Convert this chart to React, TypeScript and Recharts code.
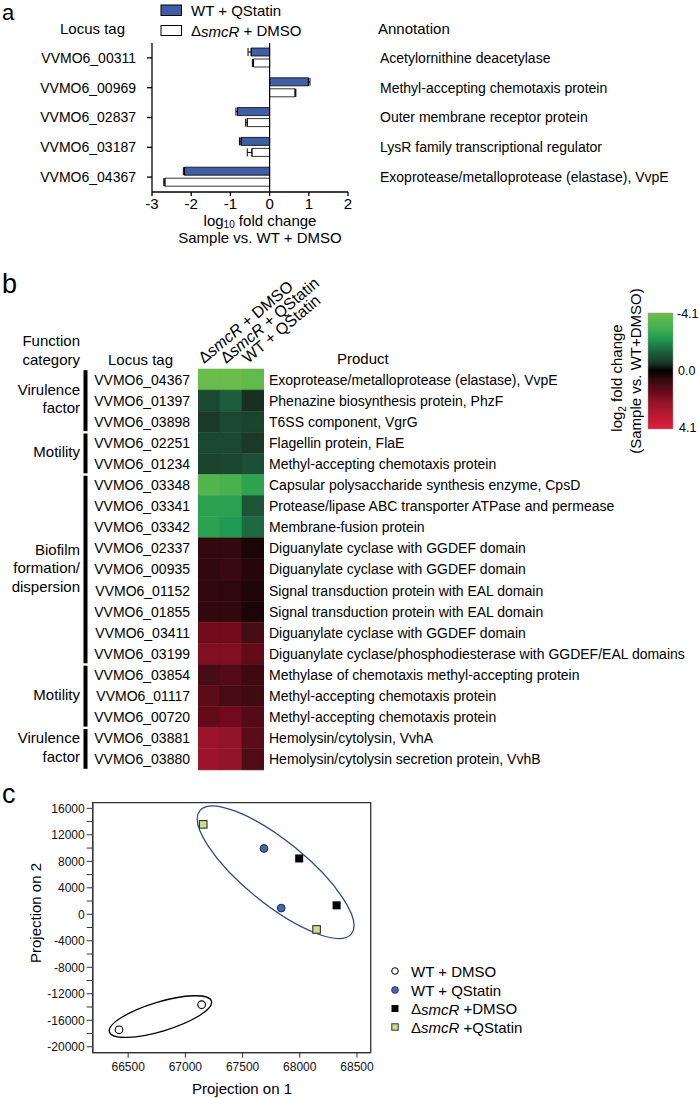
import React from 'react';
import {
  BarChart, Bar, XAxis, YAxis, ErrorBar, ReferenceLine, Cell,
  ScatterChart, Scatter, ReferenceArea, ReferenceDot,
} from 'recharts';

const FONT = '"Liberation Sans", Arial, Helvetica, sans-serif';

/* ── panel a data ── */
const TAGS_A = ['VVMO6_00311', 'VVMO6_00969', 'VVMO6_02837', 'VVMO6_03187', 'VVMO6_04367'];
const ANNOT_A = [
  'Acetylornithine deacetylase',
  'Methyl-accepting chemotaxis protein',
  'Outer membrane receptor protein',
  'LysR family transcriptional regulator',
  'Exoprotease/metalloprotease (elastase), VvpE',
];
const WT_QSTATIN = [-0.47, 0.99, -0.82, -0.73, -2.17];
const WT_QSTATIN_ERR = [0.08, 0.04, 0.04, 0.04, 0.03];
const SMCR_DMSO = [-0.41, 0.65, -0.57, -0.45, -2.67];
const SMCR_DMSO_ERR = [0.03, 0.02, 0.04, 0.12, 0.03];
const TICKS_A = [-3, -2, -1, 0, 1, 2];

/* ── panel b data ── */
const COLS_B = ['ΔsmcR + DMSO', 'ΔsmcR + QStatin', 'WT + QStatin'];
const TAGS_B = [
  'VVMO6_04367', 'VVMO6_01397', 'VVMO6_03898', 'VVMO6_02251', 'VVMO6_01234',
  'VVMO6_03348', 'VVMO6_03341', 'VVMO6_03342', 'VVMO6_02337', 'VVMO6_00935',
  'VVMO6_01152', 'VVMO6_01855', 'VVMO6_03411', 'VVMO6_03199', 'VVMO6_03854',
  'VVMO6_01117', 'VVMO6_00720', 'VVMO6_03881', 'VVMO6_03880',
];
const PRODUCTS_B = [
  'Exoprotease/metalloprotease (elastase), VvpE',
  'Phenazine biosynthesis protein, PhzF',
  'T6SS component, VgrG',
  'Flagellin protein, FlaE',
  'Methyl-accepting chemotaxis protein',
  'Capsular polysaccharide synthesis enzyme, CpsD',
  'Protease/lipase ABC transporter ATPase and permease',
  'Membrane-fusion protein',
  'Diguanylate cyclase with GGDEF domain',
  'Diguanylate cyclase with GGDEF domain',
  'Signal transduction protein with EAL domain',
  'Signal transduction protein with EAL domain',
  'Diguanylate cyclase with GGDEF domain',
  'Diguanylate cyclase/phosphodiesterase with GGDEF/EAL domains',
  'Methylase of chemotaxis methyl-accepting protein',
  'Methyl-accepting chemotaxis protein',
  'Methyl-accepting chemotaxis protein',
  'Hemolysin/cytolysin, VvhA',
  'Hemolysin/cytolysin secretion protein, VvhB',
];
const FC_SMCR_DMSO = [-4.0, -0.9, -0.6, -0.9, -0.8, -3.5, -2.5, -2.5, 0.6, 0.55, 0.55, 0.55, 1.6, 1.9, 1.0, 1.3, 1.4, 2.4, 2.4];
const FC_SMCR_QSTATIN = [-4.0, -1.3, -0.9, -0.9, -0.85, -3.2, -2.5, -2.3, 0.6, 0.7, 0.5, 0.55, 1.6, 1.9, 1.2, 1.0, 1.6, 2.2, 2.2];
const FC_WT_QSTATIN = [-3.8, -0.5, -0.8, -0.6, -1.0, -2.6, -1.1, -1.5, 0.3, 0.4, 0.35, 0.3, 0.95, 1.4, 0.8, 0.85, 1.2, 1.3, 1.1];
const FC_COLS = [FC_SMCR_DMSO, FC_SMCR_QSTATIN, FC_WT_QSTATIN];
const GROUPS_B = [
  { lines: ['Virulence', 'factor'], from: 0, to: 2 },
  { lines: ['Motility'], from: 3, to: 4 },
  { lines: ['Biofilm', 'formation/', 'dispersion'], from: 5, to: 13 },
  { lines: ['Motility'], from: 14, to: 16 },
  { lines: ['Virulence', 'factor'], from: 17, to: 18 },
];

/* ── panel c data ── */
const WT_DMSO_PTS = [{ x: 66420, y: -17440 }, { x: 67142, y: -13650 }];
const WT_QSTATIN_PTS = [{ x: 67687, y: 9940 }, { x: 67838, y: 940 }];
const SMCR_DMSO_PTS = [{ x: 67995, y: 8430 }, { x: 68322, y: 1350 }];
const SMCR_QSTATIN_PTS = [{ x: 67156, y: 13580 }, { x: 68147, y: -2290 }];
const X_TICKS_C = [66500, 67000, 67500, 68000, 68500];
const Y_TICKS_C = [-20000, -18000, -16000, -14000, -12000, -10000, -8000, -6000, -4000, -2000,
  0, 2000, 4000, 6000, 8000, 10000, 12000, 14000, 16000];
// group ellipse centres (data units)
const BLUE_ELLIPSE = { x: 67789, y: 6350 };
const BLACK_ELLIPSE = { x: 66782, y: -15440 };

/* ── styling ── */
const BLUE = '#3f5ea5';
const HEAT_STOPS: [number, number[]][] = [
  [-4.1, [110, 190, 76]],
  [-3.0, [64, 174, 78]],
  [-2.3, [32, 156, 82]],
  [-1.3, [28, 94, 60]],
  [-0.6, [27, 58, 38]],
  [0, [0, 0, 0]],
  [0.5, [46, 8, 11]],
  [1.0, [72, 12, 20]],
  [1.6, [112, 10, 28]],
  [2.2, [146, 20, 40]],
  [4.1, [224, 30, 60]],
];

function heatColor(v: number) {
  if (v <= HEAT_STOPS[0][0]) return rgb(HEAT_STOPS[0][1]);
  for (let i = 1; i < HEAT_STOPS.length; i++) {
    const [v1, c1] = HEAT_STOPS[i];
    const [v0, c0] = HEAT_STOPS[i - 1];
    if (v <= v1) {
      const t = (v - v0) / (v1 - v0);
      return rgb(c0.map((c, k) => c + (c1[k] - c) * t));
    }
  }
  return rgb(HEAT_STOPS[HEAT_STOPS.length - 1][1]);
}
function rgb(c: number[]) {
  return `rgb(${c.map(Math.round).join(',')})`;
}

// error bars only drawn outward from zero
const outward = (v: number, e: number) => (v < 0 ? [e, 0] : [0, e]);

function svgItalic(s: string) {
  const parts = s.split('smcR');
  if (parts.length === 1) return s;
  return (
    <>
      {parts[0]}
      <tspan fontStyle="italic">smcR</tspan>
      {parts[1]}
    </>
  );
}

/* ── panel a ── */
const dataA = TAGS_A.map((tag, i) => ({
  tag,
  wt: WT_QSTATIN[i],
  wtErr: outward(WT_QSTATIN[i], WT_QSTATIN_ERR[i]),
  smcr: SMCR_DMSO[i],
  smcrErr: outward(SMCR_DMSO[i], SMCR_DMSO_ERR[i]),
}));

function PanelA() {
  return (
    <div style={{ position: 'absolute', left: 0, top: 0 }}>
      <BarChart
        width={700}
        height={250}
        data={dataA}
        layout="vertical"
        margin={{ top: 43, right: 0, bottom: 0, left: 0 }}
        barGap={3}
        barSize={8}
      >
        <XAxis
          type="number"
          domain={[-3, 2]}
          ticks={TICKS_A}
          allowDataOverflow
          height={58}
          tickSize={4}
          tickMargin={2}
          axisLine={{ stroke: '#000', strokeWidth: 1.3 }}
          tickLine={{ stroke: '#000', strokeWidth: 1.3 }}
          tick={{ fill: '#000', fontSize: 15 }}
        />
        <YAxis
          type="category"
          dataKey="tag"
          width={152}
          interval={0}
          tickSize={5}
          tickMargin={11}
          axisLine={{ stroke: '#000', strokeWidth: 1.3 }}
          tickLine={{ stroke: '#000', strokeWidth: 1.3 }}
          tick={{ fill: '#000', fontSize: 14 }}
        />
        <YAxis
          yAxisId="annot"
          orientation="right"
          type="category"
          dataKey="tag"
          width={352}
          interval={0}
          axisLine={false}
          tickLine={false}
          tickSize={0}
          tickMargin={32}
          tickFormatter={(t: string) => ANNOT_A[TAGS_A.indexOf(t)]}
          tick={{ fill: '#000', fontSize: 14 }}
        />
        <ReferenceLine x={0} stroke="#000" strokeWidth={1.2} />
        <Bar dataKey="wt" name="WT + QStatin" fill={BLUE} stroke="#000" strokeWidth={0.8} isAnimationActive={false}>
          <ErrorBar dataKey="wtErr" direction="x" width={4} stroke="#000" strokeWidth={1} />
        </Bar>
        <Bar dataKey="smcr" name="ΔsmcR + DMSO" fill="#fff" stroke="#000" strokeWidth={0.8} isAnimationActive={false}>
          <ErrorBar dataKey="smcrErr" direction="x" width={4} stroke="#000" strokeWidth={1} />
        </Bar>
      </BarChart>
    </div>
  );
}

/* ── panel b ── */
const B_TOP = 270;
const B_HEIGHT = 510;
const B_XAXIS_H = 99;
const B_BOTTOM = 10;
const B_PLOT_TOP = B_TOP + B_XAXIS_H;
const B_ROW_H = (B_HEIGHT - B_XAXIS_H - B_BOTTOM) / TAGS_B.length;

const dataB = TAGS_B.map((tag, i) => ({ tag, product: PRODUCTS_B[i], c0: 1, c1: 1, c2: 1 }));

function ColumnTick(props: any) {
  const { x, y, payload } = props;
  const label = COLS_B[Math.floor(payload.value)];
  return (
    <text transform={`translate(${x - 5},${y - 1}) rotate(-40)`} fontSize={16} fill="#000">
      {svgItalic(label)}
    </text>
  );
}

function PanelB() {
  return (
    <div style={{ position: 'absolute', left: 0, top: B_TOP }}>
      <BarChart
        width={700}
        height={B_HEIGHT}
        data={dataB}
        layout="vertical"
        margin={{ top: 0, right: 0, bottom: B_BOTTOM, left: 0 }}
        barCategoryGap={0}
      >
        <XAxis
          type="number"
          orientation="top"
          domain={[0, 3]}
          ticks={[0.5, 1.5, 2.5]}
          interval={0}
          allowDataOverflow
          height={B_XAXIS_H}
          axisLine={false}
          tickLine={false}
          tickSize={0}
          tickMargin={4}
          tick={<ColumnTick />}
        />
        <YAxis
          type="category"
          dataKey="tag"
          width={198}
          interval={0}
          axisLine={false}
          tickLine={false}
          tickSize={0}
          tickMargin={8}
          tick={{ fill: '#000', fontSize: 14 }}
        />
        <YAxis
          yAxisId="prod"
          orientation="right"
          type="category"
          dataKey="tag"
          width={436}
          interval={0}
          axisLine={false}
          tickLine={false}
          tickSize={0}
          tickMargin={5}
          tickFormatter={(t: string) => PRODUCTS_B[TAGS_B.indexOf(t)]}
          tick={{ fill: '#000', fontSize: 14 }}
        />
        {['c0', 'c1', 'c2'].map((key, ci) => (
          <Bar key={key} dataKey={key} stackId="heat" isAnimationActive={false}>
            {dataB.map((row, ri) => {
              const col = heatColor(FC_COLS[ci][ri]);
              return <Cell key={row.tag} fill={col} stroke={col} strokeWidth={0.6} />;
            })}
          </Bar>
        ))}
      </BarChart>
    </div>
  );
}

/* ── panel c ── */
function markerShape(kind: string) {
  return (p: any) => {
    const { cx, cy } = p;
    if (kind === 'open') return <circle cx={cx} cy={cy} r={3.8} fill="#fff" stroke="#000" strokeWidth={1.1} />;
    if (kind === 'blue') return <circle cx={cx} cy={cy} r={3.9} fill="#4668ab" stroke="#1c2c4c" strokeWidth={1} />;
    if (kind === 'black') return <rect x={cx - 4} y={cy - 4} width={8} height={8} fill="#000" />;
    return <rect x={cx - 3.8} y={cy - 3.8} width={7.6} height={7.6} fill="#c8de8c" stroke="#333" strokeWidth={1.1} />;
  };
}

function ellipseShape(rx: number, ry: number, angle: number, stroke: string) {
  return (p: any) => (
    <ellipse
      cx={p.cx}
      cy={p.cy}
      rx={rx}
      ry={ry}
      transform={`rotate(${angle} ${p.cx} ${p.cy})`}
      fill="none"
      stroke={stroke}
      strokeWidth={1.3}
    />
  );
}

function PanelC() {
  return (
    <div style={{ position: 'absolute', left: 0, top: 780 }}>
      <ScatterChart width={400} height={318} margin={{ top: 22.7, right: 29.3, bottom: 0, left: 0 }}>
        <XAxis
          type="number"
          dataKey="x"
          domain={[66190, 68620]}
          ticks={X_TICKS_C}
          allowDataOverflow
          height={45.3}
          tickSize={5}
          tickMargin={5}
          axisLine={{ stroke: '#333', strokeWidth: 1.3 }}
          tickLine={{ stroke: '#333' }}
          tick={{ fill: '#111', fontSize: 12 }}
        />
        <YAxis
          type="number"
          dataKey="y"
          domain={[-20900, 16850]}
          ticks={Y_TICKS_C}
          interval={0}
          allowDataOverflow
          width={92.7}
          tickSize={6}
          tickMargin={2}
          tickFormatter={(v: number) => (v % 4000 === 0 ? String(v) : '')}
          axisLine={{ stroke: '#333', strokeWidth: 1.3 }}
          tickLine={{ stroke: '#333' }}
          tick={{ fill: '#111', fontSize: 12 }}
        />
        <ReferenceArea
          x1={66190}
          x2={68620}
          y1={-20900}
          y2={16850}
          fill="none"
          stroke="#333"
          strokeWidth={1.3}
          ifOverflow="visible"
        />
        <ReferenceDot x={BLUE_ELLIPSE.x} y={BLUE_ELLIPSE.y} shape={ellipseShape(97.6, 31.4, 39.1, '#2b4a8c')} />
        <ReferenceDot x={BLACK_ELLIPSE.x} y={BLACK_ELLIPSE.y} shape={ellipseShape(53.3, 14.6, -16.8, '#000')} />
        <Scatter name="WT + DMSO" data={WT_DMSO_PTS} shape={markerShape('open')} isAnimationActive={false} />
        <Scatter name="WT + QStatin" data={WT_QSTATIN_PTS} shape={markerShape('blue')} isAnimationActive={false} />
        <Scatter name="ΔsmcR +DMSO" data={SMCR_DMSO_PTS} shape={markerShape('black')} isAnimationActive={false} />
        <Scatter name="ΔsmcR +QStatin" data={SMCR_QSTATIN_PTS} shape={markerShape('green')} isAnimationActive={false} />
      </ScatterChart>
    </div>
  );
}

/* ── text, legends and decorations laid over the charts ── */
function Overlay() {
  const rowTop = (i: number) => B_PLOT_TOP + i * B_ROW_H;
  const cbTop = 313;
  const cbBottom = 429;
  return (
    <svg
      width={700}
      height={1098}
      style={{ position: 'absolute', left: 0, top: 0, pointerEvents: 'none' }}
      fontFamily={FONT}
    >
      <defs>
        <linearGradient id="cbar" x1="0" y1="0" x2="0" y2="1">
          {HEAT_STOPS.map(([v, c]) => (
            <stop key={v} offset={(v + 4.1) / 8.2} stopColor={rgb(c)} />
          ))}
        </linearGradient>
      </defs>

      {/* panel a */}
      <text x={2} y={20} fontSize={22}>a</text>
      <rect x={161} y={5} width={20.5} height={10.5} fill={BLUE} stroke="#000" strokeWidth={1} />
      <rect x={161} y={25.5} width={20.5} height={10} fill="#fff" stroke="#000" strokeWidth={1} />
      <text x={191} y={10.5} fontSize={15} dominantBaseline="central">WT + QStatin</text>
      <text x={191} y={30.5} fontSize={15} dominantBaseline="central">{svgItalic('ΔsmcR + DMSO')}</text>
      <text x={60} y={28.5} fontSize={15} dominantBaseline="central">Locus tag</text>
      <text x={378} y={28.5} fontSize={15} dominantBaseline="central">Annotation</text>
      <text x={260} y={220} fontSize={15} textAnchor="middle" dominantBaseline="central">
        log<tspan fontSize={10} dy={4}>10</tspan>
        <tspan dy={-4}> fold change</tspan>
      </text>
      <text x={260} y={237} fontSize={15} textAnchor="middle" dominantBaseline="central">Sample vs. WT + DMSO</text>

      {/* panel b */}
      <text x={2} y={293} fontSize={27}>b</text>
      <text x={80} y={340} fontSize={15} textAnchor="end" dominantBaseline="central">Function</text>
      <text x={80} y={359} fontSize={15} textAnchor="end" dominantBaseline="central">category</text>
      <text x={108} y={359} fontSize={15} dominantBaseline="central">Locus tag</text>
      <text x={337} y={358} fontSize={15} dominantBaseline="central">Product</text>
      {GROUPS_B.map((g, gi) => {
        const top = rowTop(g.from) + 1.2;
        const bottom = rowTop(g.to + 1) - 1.2;
        const mid = (rowTop(g.from) + rowTop(g.to + 1)) / 2 - 2;
        const lh = 18.5;
        return (
          <g key={gi}>
            <rect x={83.5} y={top} width={4} height={bottom - top} fill="#000" />
            {g.lines.map((l, li) => (
              <text
                key={li}
                x={80}
                y={mid + (li - (g.lines.length - 1) / 2) * lh}
                fontSize={15}
                textAnchor="end"
                dominantBaseline="central"
              >
                {l}
              </text>
            ))}
          </g>
        );
      })}

      {/* colour scale */}
      <rect x={648} y={cbTop} width={25} height={cbBottom - cbTop} fill="url(#cbar)" stroke="#999" strokeWidth={0.5} />
      <text x={677} y={cbTop + 1} fontSize={12.5} dominantBaseline="central">-4.1</text>
      <text x={678} y={(cbTop + cbBottom) / 2} fontSize={12.5} dominantBaseline="central">0.0</text>
      <text x={679} y={cbBottom - 1} fontSize={12.5} dominantBaseline="central">4.1</text>
      <text transform="translate(622,378) rotate(-90)" fontSize={15} textAnchor="middle">
        log<tspan fontSize={10} dy={4}>2</tspan>
        <tspan dy={-4}> fold change</tspan>
      </text>
      <text transform="translate(641,371) rotate(-90)" fontSize={15} textAnchor="middle">
        (Sample vs. WT+DMSO)
      </text>

      {/* panel c */}
      <text x={2} y={803} fontSize={27}>c</text>
      <text x={242} y={1088} fontSize={15} textAnchor="middle" dominantBaseline="central">Projection on 1</text>
      <text transform="translate(35,913) rotate(-90)" fontSize={15} textAnchor="middle" dominantBaseline="central">
        Projection on 2
      </text>
      <circle cx={395} cy={971} r={3.3} fill="#fff" stroke="#000" strokeWidth={1} />
      <circle cx={395} cy={990} r={3.4} fill="#4668ab" stroke="#1c2c4c" strokeWidth={0.8} />
      <rect x={391.5} y={1005} width={7} height={7} fill="#000" />
      <rect x={391.8} y={1023.8} width={6.4} height={6.4} fill="#c8de8c" stroke="#333" strokeWidth={1} />
      <text x={411} y={971} fontSize={15} dominantBaseline="central">WT + DMSO</text>
      <text x={411} y={990} fontSize={15} dominantBaseline="central">WT + QStatin</text>
      <text x={411} y={1008.5} fontSize={15} dominantBaseline="central">{svgItalic('ΔsmcR +DMSO')}</text>
      <text x={411} y={1027} fontSize={15} dominantBaseline="central">{svgItalic('ΔsmcR +QStatin')}</text>
    </svg>
  );
}

export default function App() {
  return (
    <div
      style={{
        position: 'absolute',
        left: 0,
        top: 0,
        width: 700,
        height: 1098,
        background: '#fff',
        fontFamily: FONT,
        overflow: 'hidden',
      }}
    >
      <PanelA />
      <PanelB />
      <PanelC />
      <Overlay />
    </div>
  );
}
